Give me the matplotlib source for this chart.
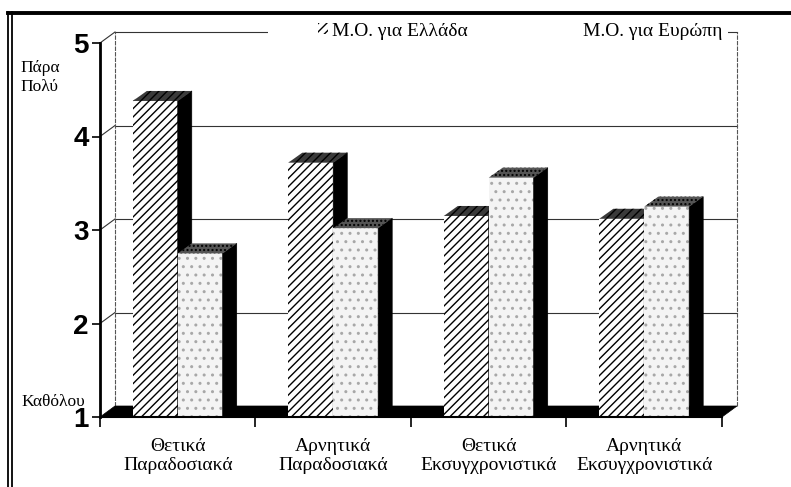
import matplotlib
matplotlib.use('Agg')
import matplotlib.pyplot as plt
from matplotlib.patches import Polygon, Rectangle
from matplotlib.lines import Line2D

# ---------------- data ----------------
categories = ['Θετικά\nΠαραδοσιακά', 'Αρνητικά\nΠαραδοσιακά',
              'Θετικά\nΕκσυγχρονιστικά', 'Αρνητικά\nΕκσυγχρονιστικά']
greece = [4.38, 3.72, 3.15, 3.12]
europe = [2.75, 3.02, 3.56, 3.25]
series_labels = ['Μ.Ο. για Ελλάδα', 'Μ.Ο. για Ευρώπη']
yticks = [1, 2, 3, 4, 5]
top_label = 'Πάρα\nΠολύ'
bottom_label = 'Καθόλου'

plt.rcParams['hatch.color'] = 'black'
plt.rcParams['hatch.linewidth'] = 1.0
SERIF = ['Liberation Serif', 'DejaVu Serif']
SANS = ['Liberation Sans', 'DejaVu Sans']

W, H = 791, 487
fig = plt.figure(figsize=(W / 100, H / 100), dpi=100)
fig.patch.set_facecolor('white')
ax = fig.add_axes([100 / W, 70 / H, 622 / W, 374 / H])
ax.set_xlim(-0.5, len(categories) - 0.5)
ax.set_ylim(yticks[0], yticks[-1])
ax.patch.set_alpha(0)

x0, x1 = ax.get_xlim()
y0, y1 = ax.get_ylim()


def depth(px_x, px_y):
    inv = ax.transData.inverted()
    p = ax.transData.transform((0.0, y0))
    q = inv.transform((p[0] + px_x, p[1] + px_y))
    return q[0], q[1] - y0


wdx, wdy = depth(15, 11)   # walls
bdx, bdy = depth(14, 10)   # bars

# floor
ax.add_patch(Polygon([(x0, y0), (x1, y0), (x1 + wdx, y0 + wdy), (x0 + wdx, y0 + wdy)],
                     closed=True, facecolor='black', edgecolor='black', lw=0.5,
                     zorder=1, clip_on=False))
# back wall gridlines and connectors
for v in yticks[1:]:
    ax.add_line(Line2D([x0 + wdx, x1 + wdx], [v + wdy, v + wdy], color='#333333',
                       lw=0.8, zorder=0.5, clip_on=False))
    ax.add_line(Line2D([x0, x0 + wdx], [v, v + wdy], color='#333333',
                       lw=0.8, zorder=0.5, clip_on=False))
for xx in (x0 + wdx, x1 + wdx):
    ax.add_line(Line2D([xx, xx], [y0 + wdy, y1 + wdy], color='#555555',
                       lw=0.8, zorder=0.5, clip_on=False, ls=(0, (4, 1))))

bw = 0.289


def bar3d(left, val, front_fc, front_hatch, front_hc, top_fc, top_hatch):
    r = ax.bar(left, val - y0, bottom=y0, width=bw, align='edge',
               color=front_fc, hatch=front_hatch, edgecolor=front_hc,
               linewidth=0, zorder=3)
    right = left + bw
    ax.add_patch(Polygon([(right, y0), (right + bdx, y0 + bdy),
                          (right + bdx, val + bdy), (right, val)],
                         closed=True, facecolor='black', edgecolor='black',
                         lw=0.5, zorder=3))
    ax.add_patch(Polygon([(left, val), (right, val), (right + bdx, val + bdy),
                          (left + bdx, val + bdy)],
                         closed=True, facecolor=top_fc, hatch=top_hatch,
                         lw=0, zorder=3))
    return r


for i in range(len(categories)):
    bar3d(i - bw, greece[i], 'white', '////', 'black', '#3a3a3a', '////')
    bar3d(i, europe[i], '#f4f4f4', '..', '#a8a8a8', '#555555', '....')

# spines / axes
for s in ('top', 'right'):
    ax.spines[s].set_visible(False)
ax.spines['left'].set_linewidth(2.0)
ax.spines['bottom'].set_linewidth(1.5)
ax.spines['left'].set_zorder(5)
ax.spines['bottom'].set_zorder(5)

ax.set_yticks(yticks)
ax.set_yticklabels([str(t) for t in yticks], fontfamily=SANS,
                   fontweight='bold', fontsize=20)
ax.tick_params(axis='y', direction='out', length=6, width=1.2, pad=2)

ax.set_xticks([i - 0.5 for i in range(len(categories) + 1)])
ax.set_xticklabels([])
ax.tick_params(axis='x', which='major', direction='out', length=7, width=1.2)
ax.set_xticks(range(len(categories)), minor=True)
ax.set_xticklabels(categories, minor=True, fontfamily=SERIF, fontsize=14,
                   linespacing=1.14)
ax.tick_params(axis='x', which='minor', length=0, pad=15)

# side labels
fig.text(20 / W, 1 - 60 / H, top_label, fontfamily=SERIF, fontsize=12.5,
         va='top', ha='left', linespacing=1.25)
fig.text(21 / W, 1 - 402 / H, bottom_label, fontfamily=SERIF, fontsize=12.5,
         va='center', ha='left')

# legend
fig.add_artist(Rectangle((268 / W, 1 - 44 / H), (728 - 268) / W, 26 / H,
                         transform=fig.transFigure, facecolor='white',
                         edgecolor='none', zorder=4))
handles = [Rectangle((0, 0), 1, 1, facecolor='white', hatch='////', linewidth=0),
           Rectangle((0, 0), 1, 1, facecolor='white', linewidth=0)]
fig.legend(handles, series_labels, loc='center left',
           bbox_to_anchor=(318 / W, 1 - 31 / H), ncol=2, frameon=False,
           prop={'family': SERIF, 'size': 14}, handlelength=0.5,
           handleheight=0.5, handletextpad=0.2, columnspacing=5.25,
           borderpad=0, borderaxespad=0)

# outer frame (scanned page border)
for fx in (8 / W, 12.5 / W):
    fig.add_artist(Line2D([fx, fx], [0, 1 - 12 / H], transform=fig.transFigure,
                          color='black', lw=1.3))
fig.add_artist(Line2D([8 / W, 1], [1 - 13 / H, 1 - 13 / H], transform=fig.transFigure,
                      color='black', lw=2.8))

fig.savefig('out.png', dpi=100, facecolor='white')
